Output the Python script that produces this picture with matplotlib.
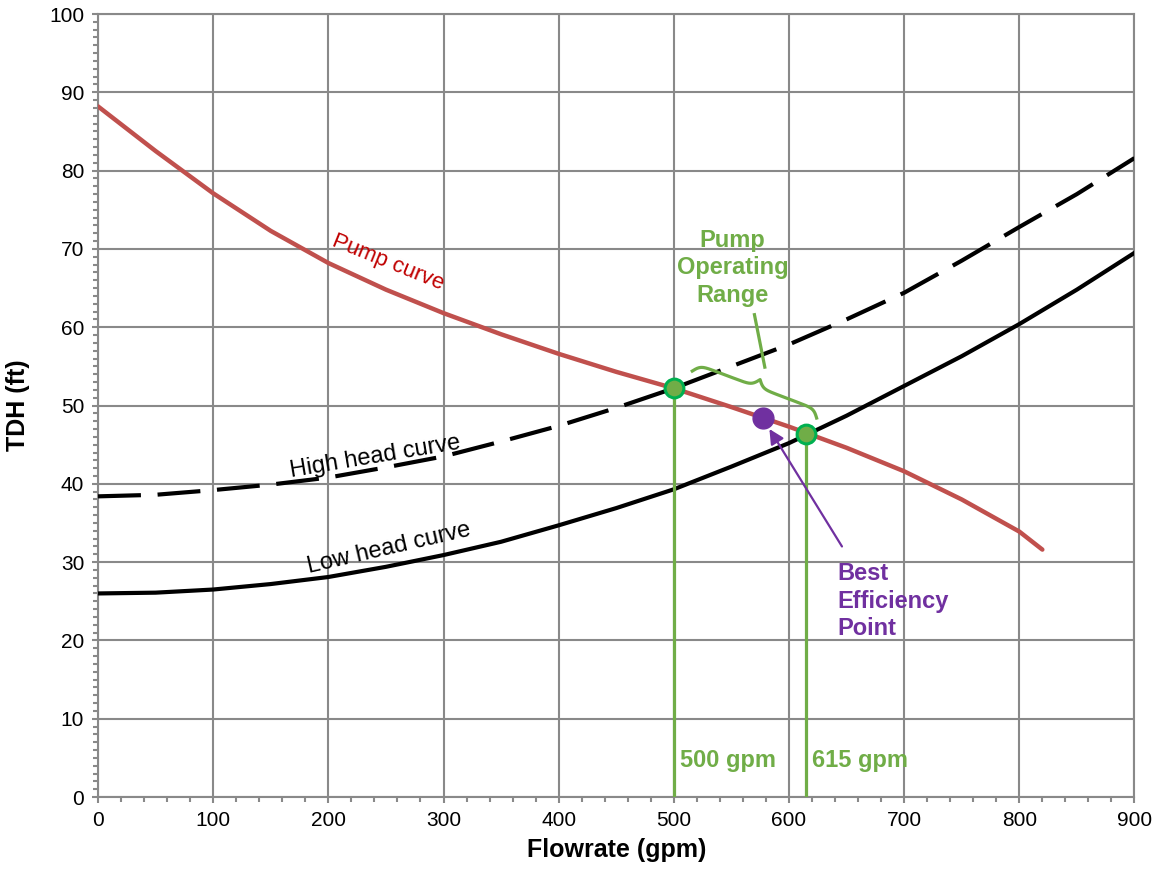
import numpy as np
import matplotlib
matplotlib.use('Agg')
import matplotlib.pyplot as plt
from matplotlib.ticker import MultipleLocator

plt.rcParams['font.family'] = ['Liberation Sans', 'DejaVu Sans']

# curves
pump_flow = [0, 50, 100, 150, 200, 250, 300, 350, 400, 450, 500, 550, 600,
             650, 700, 750, 800, 820]
pump_tdh = [88.2, 82.5, 77.1, 72.3, 68.2, 64.8, 61.8, 59.1, 56.6, 54.3, 52.2,
            49.8, 47.3, 44.6, 41.6, 38.0, 33.9, 31.6]

sys_flow = [0, 50, 100, 150, 200, 250, 300, 350, 400, 450, 500, 550, 600,
            650, 700, 750, 800, 850, 900]
high_tdh = [38.4, 38.6, 39.2, 39.9, 40.8, 42.1, 43.5, 45.4, 47.4, 49.7, 52.2,
            55.0, 57.8, 61.0, 64.4, 68.5, 72.8, 77.0, 81.6]
low_tdh = [26.0, 26.1, 26.5, 27.2, 28.1, 29.4, 30.9, 32.6, 34.7, 36.9, 39.3,
           42.2, 45.2, 48.7, 52.5, 56.3, 60.4, 64.8, 69.5]

op_flow = [500, 615]
op_tdh = [52.2, 46.4]
op_labels = ['500 gpm', '615 gpm']

bep_flow = 577
bep_tdh = 48.4

GREEN = '#70AD47'
PURPLE = '#7030A0'
GRID = '#898989'

fig = plt.figure(figsize=(11.6, 8.75), dpi=100)
ax = fig.add_axes([0.0845, 0.0891, 0.8935, 0.8949])

ax.set_xlim(0, 900)
ax.set_ylim(0, 100)
ax.xaxis.set_major_locator(MultipleLocator(100))
ax.xaxis.set_minor_locator(MultipleLocator(20))
ax.yaxis.set_major_locator(MultipleLocator(10))
ax.yaxis.set_minor_locator(MultipleLocator(1))
ax.grid(True, which='major', color=GRID, lw=1.5)
ax.set_axisbelow(True)
for sp in ax.spines.values():
    sp.set_color(GRID)
    sp.set_linewidth(1.5)
ax.tick_params(which='major', length=4, width=1.5, color=GRID,
               labelsize=15, pad=6)
ax.tick_params(which='minor', length=3.5, width=1.5, color=GRID)

ax.plot(sys_flow, high_tdh, color='black', lw=3,
        linestyle=(0, (10.3, 4)), zorder=3, solid_joinstyle='round')
ax.plot(sys_flow, low_tdh, color='black', lw=3, zorder=3,
        solid_joinstyle='round')
ax.plot(pump_flow, pump_tdh, color='#C0504D', lw=3.2, zorder=4,
        solid_joinstyle='round', solid_capstyle='round')

# operating range
for q, h, lab in zip(op_flow, op_tdh, op_labels):
    ax.plot([q, q], [0, h], color=GREEN, lw=2.3, zorder=5)
    ax.text(q + 5, 3.8, lab, color=GREEN, fontsize=17, fontweight='bold',
            ha='left', va='baseline', zorder=6)
ax.plot(op_flow, op_tdh, 'o', ms=13.5, mfc=GREEN, mec='#00B050', mew=2.2,
        zorder=7, clip_on=False)

ax.plot(bep_flow, bep_tdh, 'o', ms=15, color=PURPLE, zorder=7)
ax.annotate('', xy=(583, 47.0), xytext=(646, 32.0),
            arrowprops=dict(arrowstyle='-|>', color=PURPLE, lw=1.6,
                            mutation_scale=22, shrinkA=0, shrinkB=0),
            zorder=6)
ax.text(642, 30.0, 'Best\nEfficiency\nPoint', color=PURPLE, fontsize=17,
        fontweight='bold', ha='left', va='top', linespacing=1.25)

# curly brace over the range, built in pixels then mapped back to data
p0 = ax.transData.transform((516, 54.4))
p1 = ax.transData.transform((624, 48.4))
vec = p1 - p0
L = np.hypot(*vec)
u = vec / L
n = np.array([-u[1], u[0]])
s = np.linspace(0, L / 2, 150)
beta = 0.33
half = 1 / (1 + np.exp(-beta * (s - s[0]))) + 1 / (1 + np.exp(-beta * (s - s[-1])))
v = np.concatenate([half, half[::-1][1:]]) - 0.5
sf = np.concatenate([s, L - s[::-1][1:]])
pts = p0 + np.outer(sf, u) + np.outer(v * 16, n)
pts = ax.transData.inverted().transform(pts)
ax.plot(pts[:, 0], pts[:, 1], color=GREEN, lw=2.3, zorder=5)
ax.plot([570, 579], [61.6, 54.9], color=GREEN, lw=2.3, zorder=5)
ax.text(551, 67.6, 'Pump\nOperating\nRange', color=GREEN, fontsize=17,
        fontweight='bold', ha='center', va='center', linespacing=1.25)

# curve labels
ax.text(241, 43.4, 'High head curve', fontsize=17, rotation=9.5,
        ha='center', va='center', color='black')
ax.text(253, 31.8, 'Low head curve', fontsize=17, rotation=13,
        ha='center', va='center', color='black')
ax.text(252, 68.2, 'Pump curve', fontsize=16, rotation=-22,
        ha='center', va='center', color='#C00000')

ax.set_xlabel('Flowrate (gpm)', fontsize=18, fontweight='bold', labelpad=6)
ax.set_ylabel('TDH (ft)', fontsize=18, fontweight='bold', labelpad=14)

fig.savefig('out.png', dpi=100)
